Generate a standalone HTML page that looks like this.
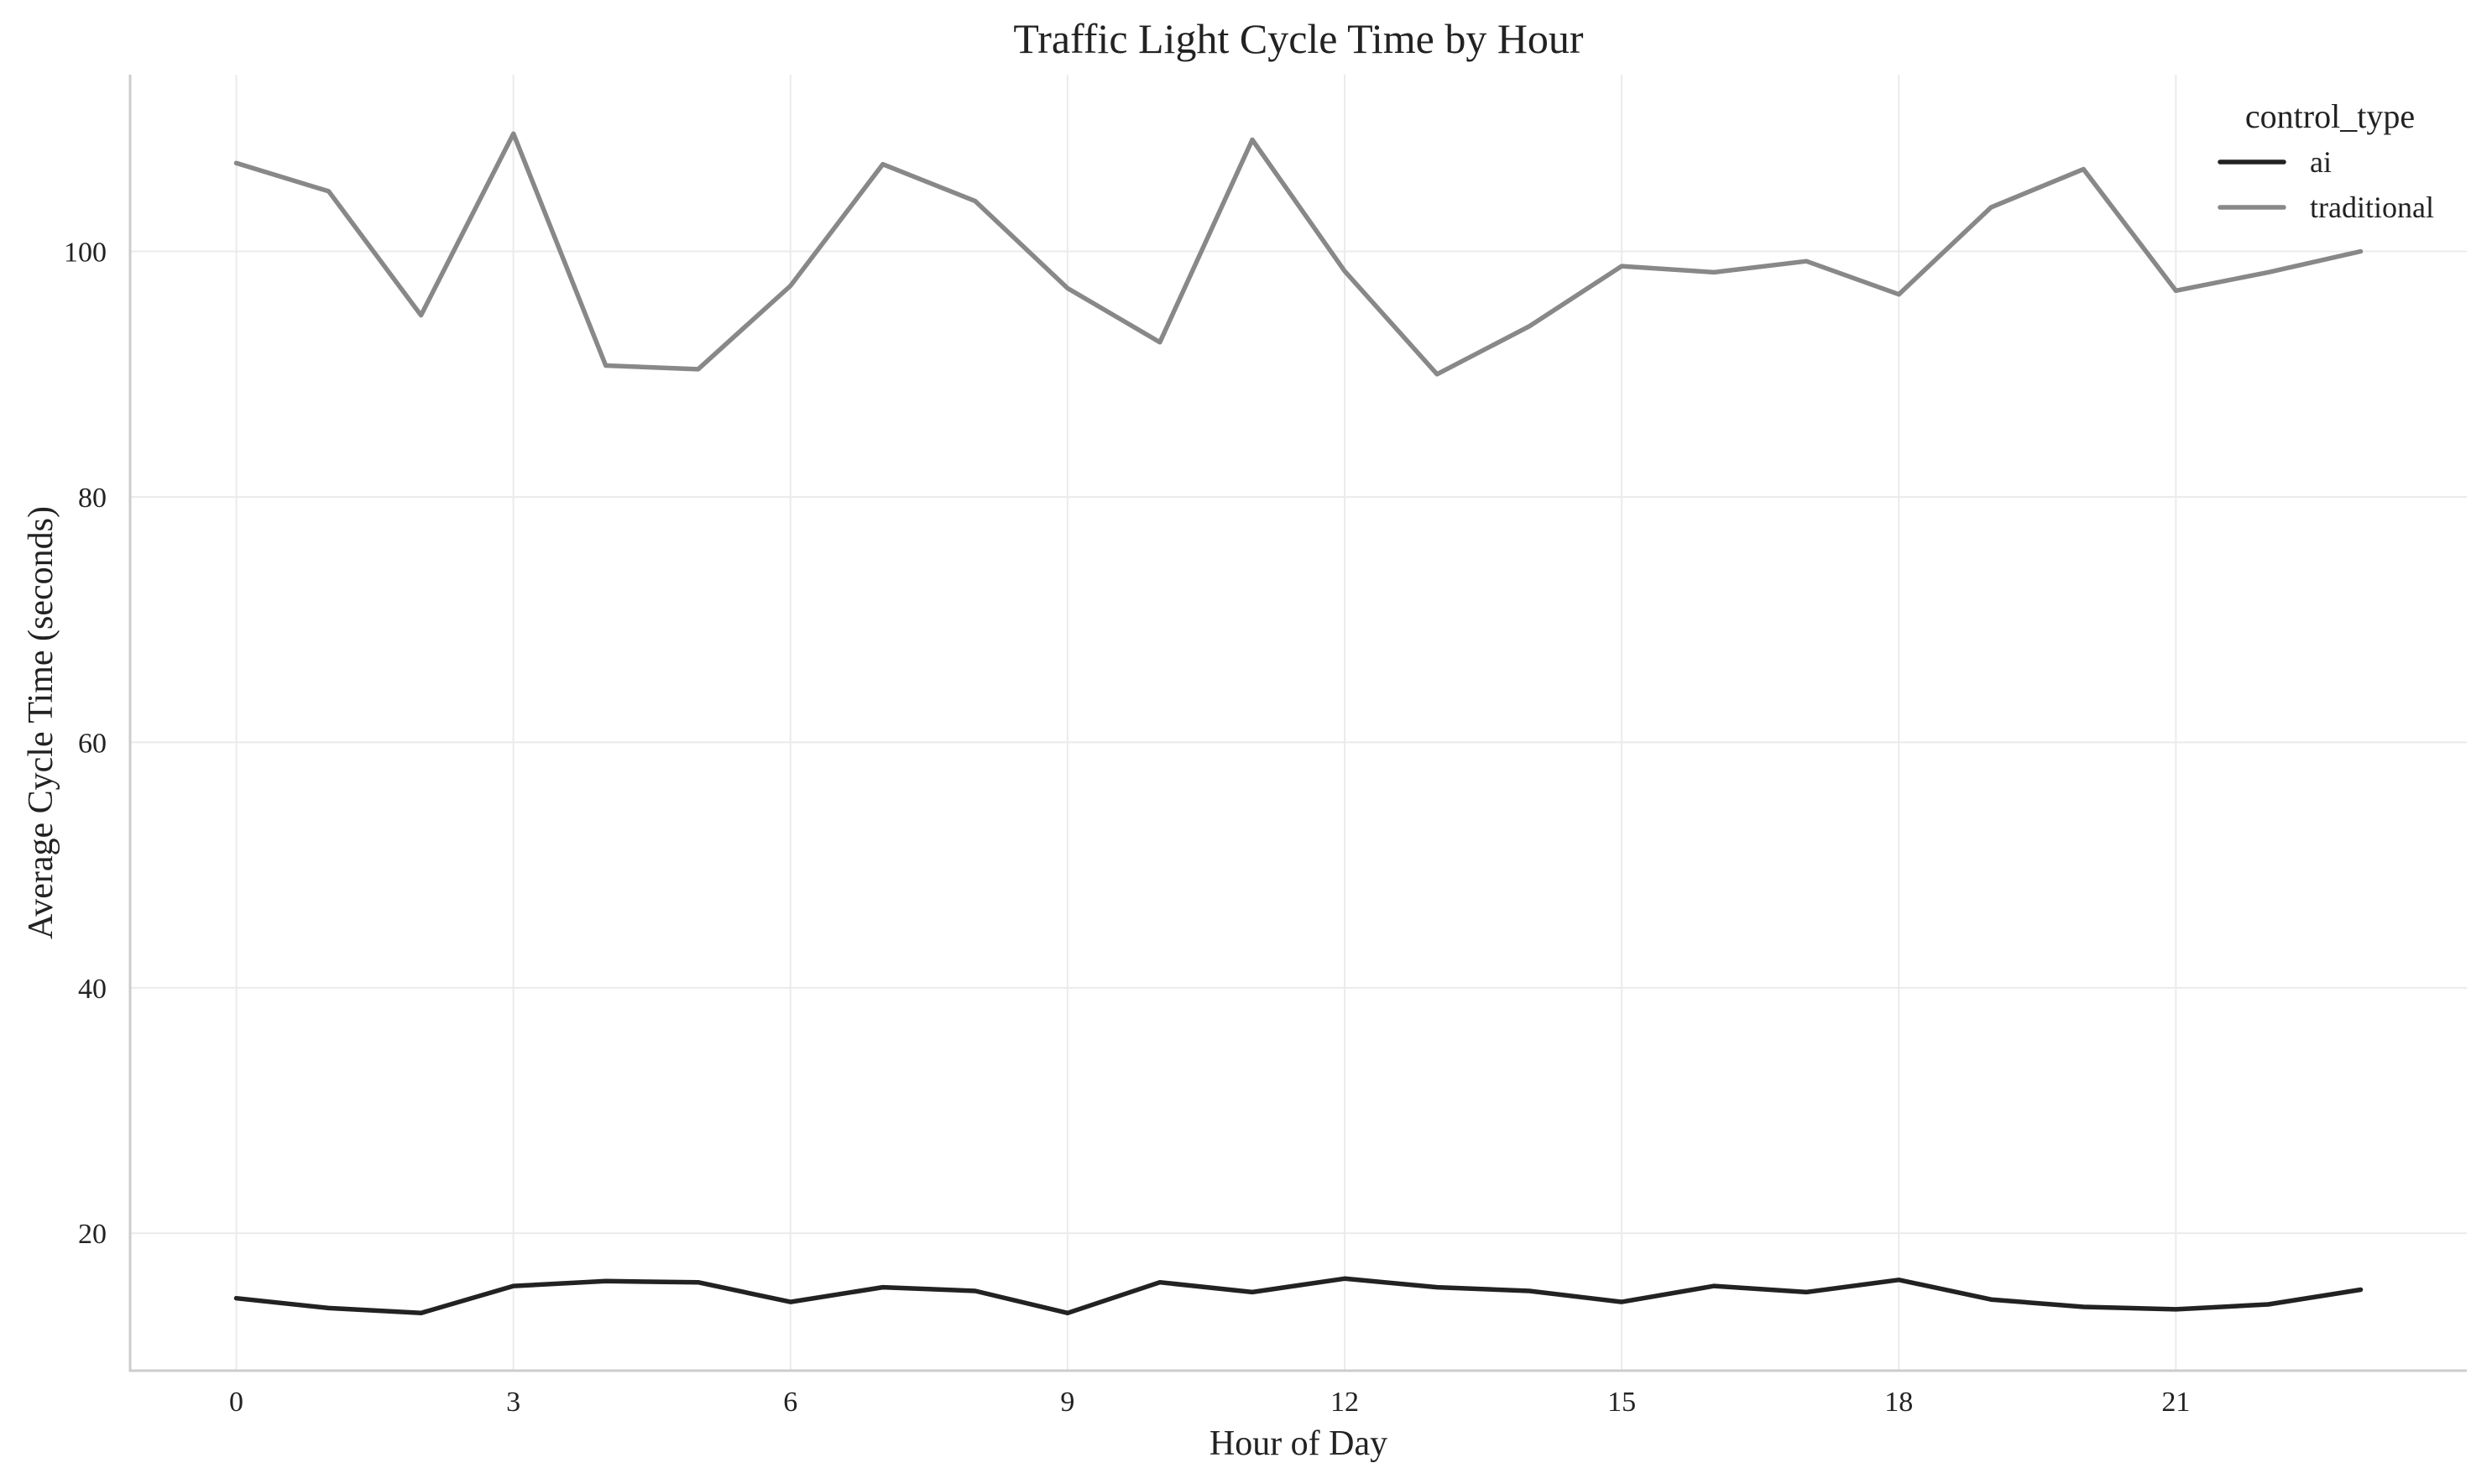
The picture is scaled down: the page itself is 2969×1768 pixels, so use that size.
<!DOCTYPE html>
<html><head><meta charset="utf-8"><style>
body{margin:0;background:#fff}
svg{display:block;font-family:"Liberation Serif",serif}
</style></head><body>
<svg id="chart" width="2969" height="1768" viewBox="0 0 2969 1768">
<text x="1547" y="63" text-anchor="middle" font-size="50" fill="#222">Traffic Light Cycle Time by Hour</text>
<g id="grid"></g>
<g id="axes"></g>
<g id="series"></g>
<text x="1547" y="1733" text-anchor="middle" font-size="42" fill="#222">Hour of Day</text>
<text transform="translate(62,861) rotate(-90)" text-anchor="middle" font-size="42" fill="#222">Average Cycle Time (seconds)</text>
<g>
<text x="2776" y="152" text-anchor="middle" font-size="40" fill="#222">control_type</text>
<g><line x1="2645" y1="193" x2="2721" y2="193" stroke="#222" stroke-width="5.5" stroke-linecap="round"/><text x="2752" y="205" font-size="36" fill="#222">ai</text></g>
<g><line x1="2645" y1="247" x2="2721" y2="247" stroke="#888" stroke-width="5.5" stroke-linecap="round"/><text x="2752" y="259" font-size="36" fill="#222">traditional</text></g>
</g>
</svg>
<script>
const hours = [0,1,2,3,4,5,6,7,8,9,10,11,12,13,14,15,16,17,18,19,20,21,22,23];
const aiValues = [14.7,13.9,13.5,15.7,16.1,16.0,14.4,15.6,15.3,13.5,16.0,15.2,16.3,15.6,15.3,14.4,15.7,15.2,16.2,14.6,14.0,13.8,14.2,15.4];
const traditionalValues = [107.2,104.9,94.8,109.6,90.7,90.4,97.2,107.1,104.1,97.0,92.6,109.1,98.4,90.0,93.9,98.8,98.3,99.2,96.5,103.6,106.7,96.8,98.3,100.0];
const xTicks = [0,3,6,9,12,15,18,21];
const yTicks = [20,40,60,80,100];
const xDomain = [-1.15, 24.15];
const yDomain = [8.8, 114.4];

const L=155,R=2939,T=89,B=1633;
function xs(v){return L+(v-xDomain[0])/(xDomain[1]-xDomain[0])*(R-L);}
function ys(v){return B-(v-yDomain[0])/(yDomain[1]-yDomain[0])*(B-T);}
const NS="http://www.w3.org/2000/svg";
function mk(tag,attrs,parent){const e=document.createElementNS(NS,tag);for(const k in attrs)e.setAttribute(k,attrs[k]);parent.appendChild(e);return e;}
const grid=document.getElementById('grid'),axes=document.getElementById('axes'),series=document.getElementById('series');
xTicks.forEach(t=>{
  const g=mk('line',{x1:xs(t),x2:xs(t),y1:T,y2:B,stroke:'#ebebeb','stroke-width':2},grid);
  
  
  const tx=mk('text',{x:xs(t),y:1681,'text-anchor':'middle','font-size':34,fill:'#222'},axes);
  tx.textContent=t;
  
  
});
yTicks.forEach(t=>{
  const g=mk('line',{x1:L,x2:R,y1:ys(t),y2:ys(t),stroke:'#ebebeb','stroke-width':2},grid);
  
  
  const tx=mk('text',{x:127,y:ys(t)+12,'text-anchor':'end','font-size':34,fill:'#222'},axes);
  tx.textContent=t;
  
  
});
const ya=mk('line',{x1:L,x2:L,y1:T,y2:B+1.5,stroke:'#ccc','stroke-width':3},axes);


const xa=mk('line',{x1:L-1.5,x2:R,y1:B,y2:B,stroke:'#ccc','stroke-width':3},axes);


function draw(vals,color,name){
  const d=vals.map((v,i)=>(i?'L':'M')+xs(hours[i]).toFixed(1)+','+ys(v).toFixed(1)).join(' ');
  const p=mk('path',{d:d,fill:'none',stroke:color,'stroke-width':5.5,'stroke-linejoin':'round','stroke-linecap':'round'},series);
  
  
}
draw(traditionalValues,'#888','traditional-line');
draw(aiValues,'#222','ai-line');
</script>
</body></html>
